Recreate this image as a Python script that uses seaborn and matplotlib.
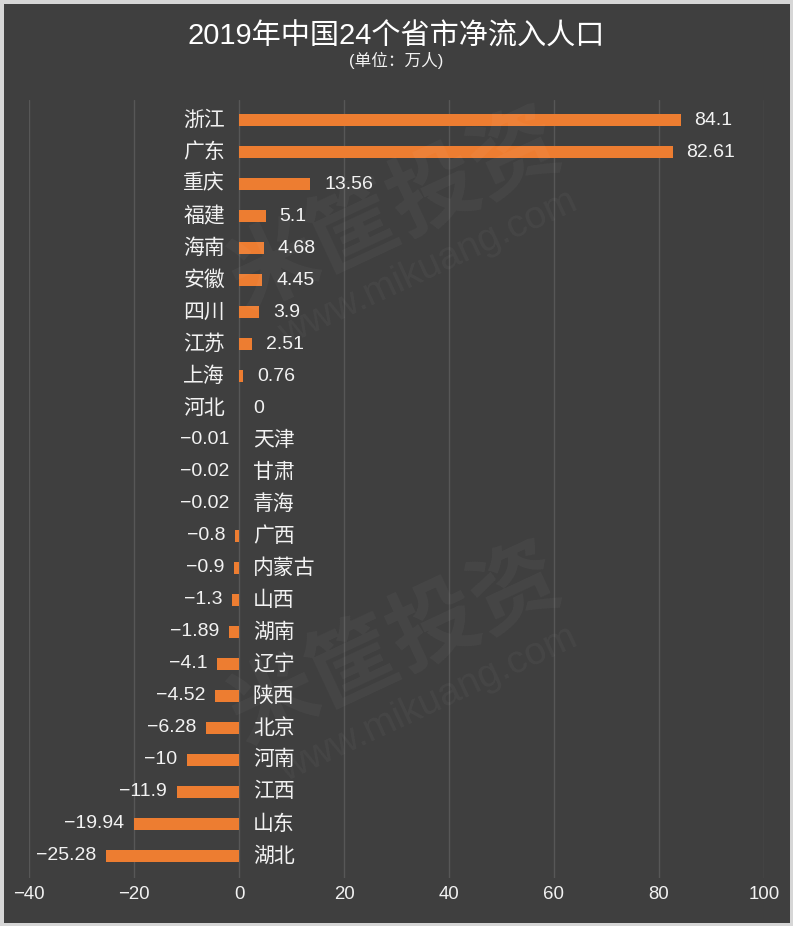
import matplotlib
matplotlib.use("Agg")
import matplotlib.pyplot as plt
import seaborn as sns
import pandas as pd

provinces = ["浙江", "广东", "重庆", "福建", "海南", "安徽", "四川", "江苏", "上海", "河北",
             "天津", "甘肃", "青海", "广西", "内蒙古", "山西", "湖南", "辽宁", "陕西", "北京",
             "河南", "江西", "山东", "湖北"]
values = [84.1, 82.61, 13.56, 5.1, 4.68, 4.45, 3.9, 2.51, 0.76, 0,
          -0.01, -0.02, -0.02, -0.8, -0.9, -1.3, -1.89, -4.1, -4.52, -6.28,
          -10, -11.9, -19.94, -25.28]
value_labels = ["84.1", "82.61", "13.56", "5.1", "4.68", "4.45", "3.9", "2.51", "0.76", "0",
                "−0.01", "−0.02", "−0.02", "−0.8", "−0.9", "−1.3", "−1.89", "−4.1", "−4.52", "−6.28",
                "−10", "−11.9", "−19.94", "−25.28"]
xticks = [-40, -20, 0, 20, 40, 60, 80, 100]
xtick_labels = ["−40", "−20", "0", "20", "40", "60", "80", "100"]
title = "2019年中国24个省市净流入人口"
subtitle = "(单位：万人)"

sns.set_theme(style="dark")
FAM = ["Liberation Sans", "Noto Sans CJK SC", "DejaVu Sans"]
plt.rcParams["font.family"] = FAM

BG = "#3f3f3f"
BAR = "#ed7d31"
TXT = "#f2f2f2"

fig = plt.figure(figsize=(7.93, 9.26), dpi=100)
fig.patch.set_facecolor(BG)
fig.patch.set_edgecolor("#d6d6d6")
fig.patch.set_linewidth(5)
ax = fig.add_axes([0.0366, 0.052, 0.9268, 0.840])
ax.set_facecolor(BG)

df = pd.DataFrame({"省市": provinces, "净流入": values})
sns.barplot(data=df, y="省市", x="净流入", orient="h", color=BAR, saturation=1,
            width=0.38, linewidth=0, ax=ax, zorder=3)

ax.set_xlim(-40, 100)
ax.set_ylim(len(provinces) - 1 + 0.69, -0.63)
ax.set_xticks(xticks)
ax.set_xticklabels(xtick_labels, color=TXT, fontsize=13.4)
ax.tick_params(axis="x", length=0, pad=6)
ax.set_yticks([])
ax.set_xlabel("")
ax.set_ylabel("")
for s in ax.spines.values():
    s.set_visible(False)
ax.grid(axis="x", color="#575757", linewidth=1, zorder=0)
ax.grid(axis="y", visible=False)

for i, (name, v, lab) in enumerate(zip(provinces, values, value_labels)):
    if v >= 0:
        ax.annotate(name, (0, i), xytext=(-10, 0), textcoords="offset points",
                    ha="right", va="center", color=TXT, fontsize=15)
        ax.annotate(lab, (v, i), xytext=(10, 0), textcoords="offset points",
                    ha="left", va="center", color=TXT, fontsize=14)
    else:
        ax.annotate(name, (0, i), xytext=(10, 0), textcoords="offset points",
                    ha="left", va="center", color=TXT, fontsize=15)
        ax.annotate(lab, (v, i), xytext=(-7, 0), textcoords="offset points",
                    ha="right", va="center", color=TXT, fontsize=14)

fig.text(0.5, 0.961, title, ha="center", va="center", color="white", fontsize=21)
fig.text(0.5, 0.935, subtitle, ha="center", va="center", color=TXT, fontsize=12)

# faint watermark
for (x, y) in [(0.5, 0.77), (0.5, 0.30)]:
    fig.text(x, y, "米筐投资", ha="center", va="center", color="white", alpha=0.04,
             fontsize=64, fontweight="bold", rotation=25)
    fig.text(x + 0.04, y - 0.06, "www.mikuang.com", ha="center", va="center", color="white",
             alpha=0.04, fontsize=28, rotation=25)

fig.savefig("out.png", dpi=100, facecolor=fig.get_facecolor(), edgecolor=fig.get_edgecolor())
